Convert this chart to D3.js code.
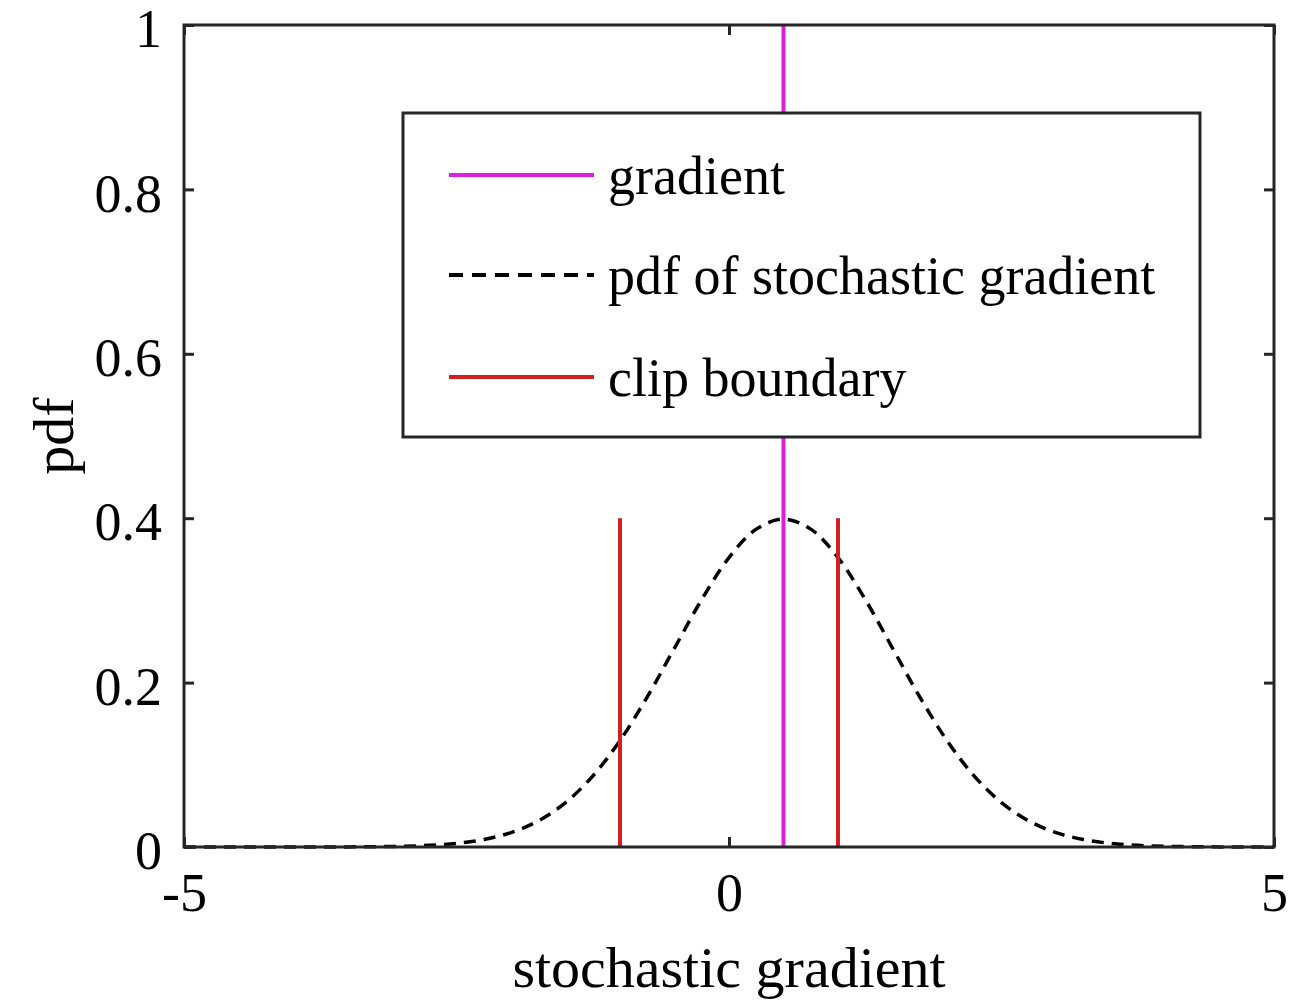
<!DOCTYPE html>
<html>
<head>
<meta charset="utf-8">
<script src="https://cdn.jsdelivr.net/npm/d3@7"></script>
<style>
  body { margin: 0; background: #fff; }
  text { font-family: "Liberation Serif", "Times New Roman", serif; fill: #000; }
</style>
</head>
<body>
<svg width="1297" height="1003"></svg>
<script>
// pdf of the stochastic gradient at steps of 0.25
const pdfX = [-5, -4.75, -4.5, -4.25, -4, -3.75, -3.5, -3.25, -3, -2.75, -2.5, -2.25, -2, -1.75, -1.5, -1.25,
              -1, -0.75, -0.5, -0.25, 0, 0.25, 0.5, 0.75, 1, 1.25, 1.5, 1.75, 2, 2.25, 2.5, 2.75,
              3, 3.25, 3.5, 3.75, 4, 4.25, 4.5, 4.75, 5];
const pdfY = [0, 0, 0, 0, 0, 0.0001, 0.0001, 0.0004, 0.0009, 0.002, 0.0044, 0.0091, 0.0175, 0.0317, 0.054, 0.0863,
              0.1295, 0.1826, 0.242, 0.3011, 0.3521, 0.3867, 0.3989, 0.3867, 0.3521, 0.3011, 0.242, 0.1826, 0.1295, 0.0863, 0.054, 0.0317,
              0.0175, 0.0091, 0.0044, 0.002, 0.0009, 0.0004, 0.0001, 0.0001, 0];
const gradientX = 0.5;
const clipX = [-1, 1];
const clipTop = 0.4;
const xTicks = [-5, 0, 5];
const yTicks = [0, 0.2, 0.4, 0.6, 0.8, 1];
const legendLabels = ["gradient", "pdf of stochastic gradient", "clip boundary"];

const magenta = "#dc1fdc", red = "#d41f1f", axisCol = "#262626";

const svg = d3.select("svg");
const pLeft = 184, pRight = 1274, pTop = 25, pBottom = 847;

const x = d3.scaleLinear().domain([-5, 5]).range([pLeft, pRight]);
const y = d3.scaleLinear().domain([0, 1]).range([pBottom, pTop]);

// data lines
svg.append("line")
    .attr("x1", x(gradientX)).attr("x2", x(gradientX))
    .attr("y1", y(0)).attr("y2", y(1))
    .attr("stroke", magenta).attr("stroke-width", 4);

const pts = pdfX.map((v, i) => [v, pdfY[i]]);
svg.append("path")
    .datum(pts)
    .attr("fill", "none")
    .attr("stroke", "#000")
    .attr("stroke-width", 3.5)
    .attr("stroke-dasharray", "12,8")
    .attr("d", d3.line().x(d => x(d[0])).y(d => y(d[1])).curve(d3.curveCatmullRom));

svg.selectAll(".clip")
    .data(clipX)
    .enter().append("line")
    .attr("x1", d => x(d)).attr("x2", d => x(d))
    .attr("y1", y(0)).attr("y2", y(clipTop))
    .attr("stroke", red).attr("stroke-width", 4);

// axes, ticks inward on all sides
const fs = 54;
const gB = svg.append("g").attr("transform", `translate(0,${pBottom})`)
    .call(d3.axisBottom(x).tickValues(xTicks).tickSize(-10).tickPadding(26).tickFormat(d => String(d)));
const gT = svg.append("g").attr("transform", `translate(0,${pTop})`)
    .call(d3.axisTop(x).tickValues(xTicks).tickSize(-10).tickFormat(""));
const gL = svg.append("g").attr("transform", `translate(${pLeft},0)`)
    .call(d3.axisLeft(y).tickValues(yTicks).tickSize(-10).tickPadding(22).tickFormat(d => d === 0 || d === 1 ? d : d3.format(".1f")(d)));
const gR = svg.append("g").attr("transform", `translate(${pRight},0)`)
    .call(d3.axisRight(y).tickValues(yTicks).tickSize(-10).tickFormat(""));

[gB, gT, gL, gR].forEach(g => {
    g.select(".domain").remove();
    g.selectAll(".tick line").attr("stroke", axisCol).attr("stroke-width", 3);
    g.selectAll(".tick text").style("font-family", '"Liberation Serif", serif').style("font-size", fs + "px").attr("fill", "#000");
});
gB.selectAll(".tick text").attr("dy", "0.71em");
gL.selectAll(".tick text").attr("dy", "0.4em");

svg.append("rect")
    .attr("x", pLeft).attr("y", pTop)
    .attr("width", pRight - pLeft).attr("height", pBottom - pTop)
    .attr("fill", "none").attr("stroke", axisCol).attr("stroke-width", 3);

// axis labels
svg.append("text")
    .attr("x", (pLeft + pRight) / 2).attr("y", 987)
    .attr("text-anchor", "middle")
    .style("font-size", "58px")
    .text("stochastic gradient");

svg.append("text")
    .attr("transform", `translate(73,${(pTop + pBottom) / 2}) rotate(-90)`)
    .attr("text-anchor", "middle")
    .style("font-size", "58px")
    .text("pdf");

// legend
const lg = svg.append("g");
lg.append("rect")
    .attr("x", 403).attr("y", 113).attr("width", 797).attr("height", 324)
    .attr("fill", "#fff").attr("stroke", axisCol).attr("stroke-width", 3);

const rowY = [175, 275, 377];
const rowStyle = [
    { stroke: magenta, dash: null },
    { stroke: "#000", dash: "14,9" },
    { stroke: red, dash: null }
];
legendLabels.forEach((lab, i) => {
    lg.append("line")
        .attr("x1", 449).attr("x2", 594)
        .attr("y1", rowY[i]).attr("y2", rowY[i])
        .attr("stroke", rowStyle[i].stroke).attr("stroke-width", 4)
        .attr("stroke-dasharray", rowStyle[i].dash);
    lg.append("text")
        .attr("x", 608).attr("y", rowY[i] + 19)
        .style("font-size", fs + "px")
        .text(lab);
});
</script>
</body>
</html>
